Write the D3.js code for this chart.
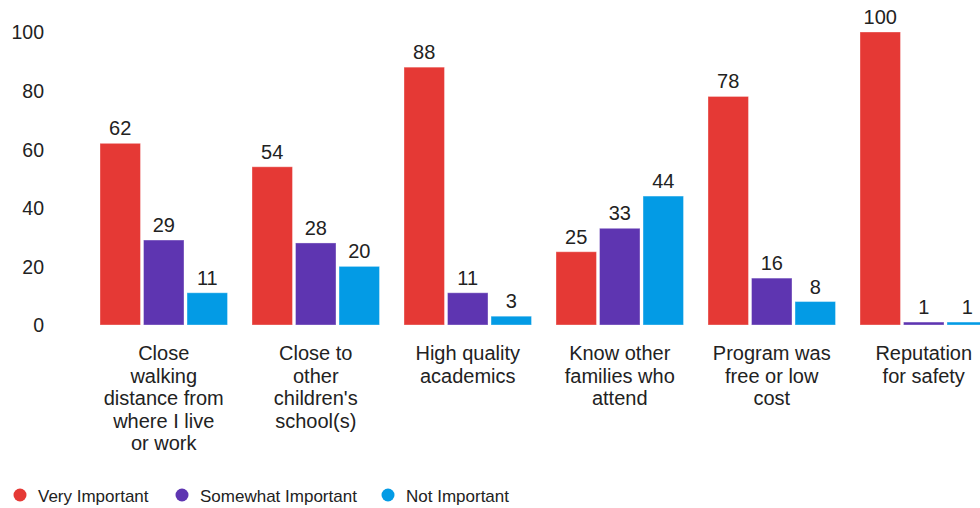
<!DOCTYPE html>
<html>
<head>
<meta charset="utf-8">
<script src="https://cdn.jsdelivr.net/npm/d3@7"></script>
<style>
  html, body { margin: 0; padding: 0; background: #fff; }
  svg { display: block; font-family: "Liberation Sans", Arial, sans-serif; }
</style>
</head>
<body>
<svg id="chart" width="980" height="508"></svg>
<script>
// Reasons for choosing a program, by importance rating
const categories = [
  "Close walking distance from where I live or work",
  "Close to other children's school(s)",
  "High quality academics",
  "Know other families who attend",
  "Program was free or low cost",
  "Reputation for safety"
];
const categoryLines = [
  ["Close", "walking", "distance from", "where I live", "or work"],
  ["Close to", "other", "children's", "school(s)"],
  ["High quality", "academics"],
  ["Know other", "families who", "attend"],
  ["Program was", "free or low", "cost"],
  ["Reputation", "for safety"]
];
const seriesNames = ["Very Important", "Somewhat Important", "Not Important"];
const seriesColors = ["#e53935", "#5e35b1", "#039be5"];
const veryImportant = [62, 54, 88, 25, 78, 100];
const somewhatImportant = [29, 28, 11, 33, 16, 1];
const notImportant = [11, 20, 3, 44, 8, 1];
const yTicks = [0, 20, 40, 60, 80, 100];

const seriesValues = [veryImportant, somewhatImportant, notImportant];

const svg = d3.select("#chart");
const textColor = "#222";

const y = d3.scaleLinear().domain([0, 100]).range([325, 32]);
const x0 = d3.scaleBand().domain(categories).range([88, 88 + 152 * categories.length]);
const x1 = d3.scaleBand().domain(seriesNames).range([12, 139.5]).paddingInner(0.07);

// y axis labels (no line, no gridlines)
const yAxis = d3.axisLeft(y).tickValues(yTicks).tickSize(0).tickPadding(0);
const yg = svg.append("g").attr("transform", "translate(44,0)").call(yAxis);
yg.select(".domain").remove();
yg.selectAll("text")
  .attr("font-size", 19.5)
  .attr("font-family", "Liberation Sans, Arial, sans-serif")
  .attr("fill", textColor)
  .attr("dy", "0.35em");

// grouped bars
const groups = svg.append("g")
  .selectAll("g")
  .data(categories)
  .join("g")
  .attr("transform", d => `translate(${x0(d)},0)`);

groups.each(function (cat, ci) {
  const g = d3.select(this);
  const rows = seriesNames.map((s, si) => ({ s, si, v: seriesValues[si][ci] }));
  g.selectAll("rect")
    .data(rows)
    .join("rect")
    .attr("x", d => x1(d.s))
    .attr("y", d => y(d.v))
    .attr("width", x1.bandwidth())
    .attr("height", d => y(0) - y(d.v))
    .attr("fill", d => seriesColors[d.si])
    .attr("stroke", "#ffffff")
    .attr("stroke-opacity", 0.35)
    .attr("stroke-width", 1);
  g.selectAll("text.val")
    .data(rows)
    .join("text")
    .attr("class", "val")
    .attr("x", d => x1(d.s) + x1.bandwidth() / 2)
    .attr("y", d => y(d.v) - 8)
    .attr("text-anchor", "middle")
    .attr("font-size", 20)
    .attr("fill", textColor)
    .text(d => d.v);
});

// category labels, wrapped
const labels = svg.append("g")
  .selectAll("text")
  .data(categories)
  .join("text")
  .attr("x", d => x0(d) + (x1.range()[0] + x1.range()[1]) / 2)
  .attr("y", 360)
  .attr("text-anchor", "middle")
  .attr("font-size", 20)
  .attr("fill", textColor);
labels.each(function (d, i) {
  const t = d3.select(this);
  const cx = t.attr("x");
  categoryLines[i].forEach((line, li) => {
    t.append("tspan")
      .attr("x", cx)
      .attr("y", 360 + li * 22.5)
      .text(line);
  });
});

// legend
const legendX = [20, 182, 388];
const legend = svg.append("g")
  .selectAll("g")
  .data(seriesNames)
  .join("g")
  .attr("transform", (d, i) => `translate(${legendX[i]},495)`);
legend.append("circle")
  .attr("r", 6.5)
  .attr("fill", (d, i) => seriesColors[i]);
legend.append("text")
  .attr("x", 18)
  .attr("y", 6.5)
  .attr("font-size", 17)
  .attr("fill", textColor)
  .text(d => d);
</script>
</body>
</html>
